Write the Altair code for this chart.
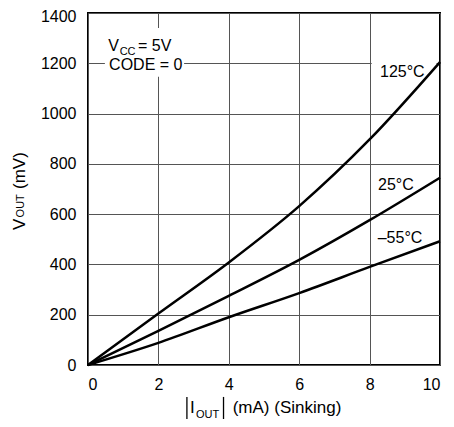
import altair as alt
import pandas as pd

# ---- data ----
currents_ma = [0, 2, 4, 6, 8, 10]
vout_125c = [0, 205, 408, 632, 897, 1205]
vout_25c = [0, 136, 275, 418, 576, 745]
vout_m55c = [0, 88, 190, 286, 390, 492]
series_labels = ["125°C", "25°C", "–55°C"]
x_ticks = [0, 2, 4, 6, 8, 10]
y_ticks = [0, 200, 400, 600, 800, 1000, 1200, 1400]

rows = []
for name, vals in zip(series_labels, [vout_125c, vout_25c, vout_m55c]):
    for c, v in zip(currents_ma, vals):
        rows.append({"I": c, "V": v, "T": name})
df = pd.DataFrame(rows)

FONT = "Liberation Sans"
one = pd.DataFrame({"k": [0]})

xs = alt.Scale(domain=[0, 10], nice=False, zero=False)
ys = alt.Scale(domain=[0, 1400], nice=False)


def txt(s, x, y, size=16, angle=None):
    kw = dict(text=s, align="left", baseline="alphabetic", fontSize=size,
              font=FONT, color="black")
    if angle is not None:
        kw["angle"] = angle
    return alt.Chart(one).mark_text(**kw).encode(x=alt.datum(x), y=alt.datum(y))


def white_box(x1, x2, y1, y2):
    return alt.Chart(one).mark_rect(color="white").encode(
        x=alt.datum(x1), x2=alt.datum(x2), y=alt.datum(y1), y2=alt.datum(y2))


def bar(x, y1, y2):
    return alt.Chart(one).mark_rule(color="black", strokeWidth=1.3).encode(
        x=alt.datum(x), y=alt.datum(y1), y2=alt.datum(y2))


lines = alt.Chart(df).mark_line(color="black", strokeWidth=2.5,
                                interpolate="monotone").encode(
    x=alt.X("I:Q", scale=xs, title=None,
            axis=alt.Axis(values=x_ticks, labelPadding=11, format="d")),
    y=alt.Y("V:Q", scale=ys, title=None,
            axis=alt.Axis(values=y_ticks, labelPadding=12, format="d",
                          labelOffset={"condition": {"test": "datum.value == 1400",
                                                     "value": 3},
                                       "value": 0})),
    detail="T:N",
)

layers = [
    white_box(0.48, 2.73, 1340, 1146),
    white_box(8.06, 9.9, 1229, 1134),
    lines,
    # in-plot annotations
    txt("V", 0.577, 1249),
    txt("CC", 0.9, 1233, size=11),
    txt("= 5V", 1.42, 1249),
    txt("CODE = 0", 0.6, 1173),
    txt(series_labels[0], 8.295, 1147),
    txt(series_labels[1], 8.24, 696),
    txt(series_labels[2], 8.23, 484),
    # x-axis title  |I_OUT| (mA) (Sinking)
    bar(2.81, -127, -219),
    txt("I", 2.9, -191, size=17),
    txt("OUT", 3.07, -211, size=11),
    bar(3.85, -127, -219),
    txt("(mA) (Sinking)", 4.11, -191, size=17),
    # y-axis title  V_OUT (mV)
    txt("V", -1.79, 537, size=17, angle=270),
    txt("OUT", -1.818, 587, size=11, angle=270),
    txt("(mV)", -1.79, 700, size=17, angle=270),
]

chart = alt.layer(*layers).properties(
    width=352,
    height=352,
    autosize=alt.AutoSizeParams(type="none"),
    padding={"left": 80, "top": 5, "right": 6, "bottom": 54},
).configure_view(
    stroke="black", strokeWidth=2
).configure_axis(
    grid=True, gridColor="#555", gridWidth=1, gridOpacity=1,
    domain=False, ticks=False, tickSize=0,
    labelFont=FONT, labelFontSize=16, labelColor="black",
)

chart.save("out.html", embed_options={"renderer": "svg", "actions": False})
